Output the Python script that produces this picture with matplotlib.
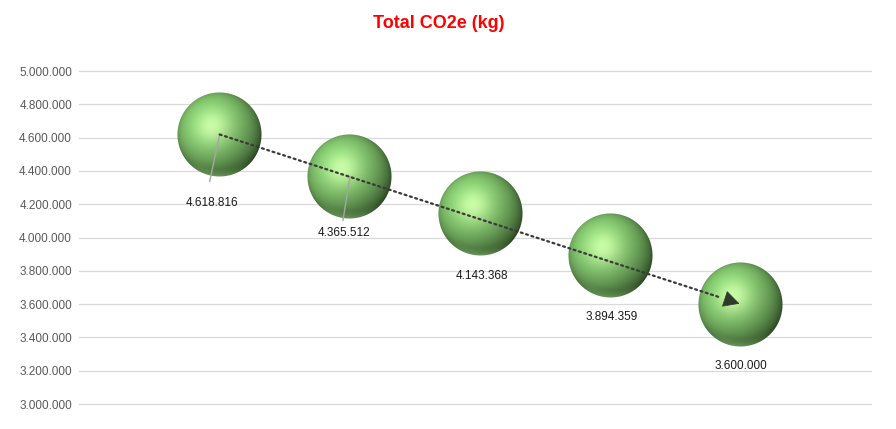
import numpy as np
import matplotlib
matplotlib.use("Agg")
import matplotlib.pyplot as plt
from matplotlib.ticker import FuncFormatter, MultipleLocator
from matplotlib.offsetbox import OffsetImage, AnnotationBbox

# data
years = [1, 2, 3, 4, 5]
co2 = [4618816, 4365512, 4143368, 3894359, 3600000]
title = "Total CO2e (kg)"
# label offsets in pixels (label pulled away from bubble)
label_dx = [-8, -6, 2, 1, 0]
label_dy = [-69, -56, -62, -62, -62]

plt.rcParams['font.family'] = ['Liberation Sans', 'DejaVu Sans']


def sphere(n=170):
    # shaded green ball, soft highlight top-left, shadow on the right
    t = np.linspace(-1, 1, n)
    x, y = np.meshgrid(t, -t)
    r = np.sqrt(x**2 + y**2)
    nz = np.sqrt(np.clip(1 - r**2, 0, 1))
    L = np.array([-0.3, 0.35, 0.89])
    L = L / np.linalg.norm(L)
    dot = x * L[0] + y * L[1] + nz * L[2]
    w = 0.55
    shade = np.clip((dot + w) / (1 + w), 0, 1) ** 1.3
    light = np.array([0.58, 0.87, 0.49])
    dark = np.array([0.12, 0.20, 0.09])
    img = dark + (light - dark) * shade[..., None]
    H = L + np.array([0, 0, 1.0])
    H = H / np.linalg.norm(H)
    spec = np.clip(x * H[0] + y * H[1] + nz * H[2], 0, 1) ** 12
    img += spec[..., None] * np.array([0.22, 0.13, 0.17])
    rim = np.clip((-y - 0.55) / 0.45, 0, 1) ** 2 * np.clip((r - 0.8) / 0.2, 0, 1)
    img += rim[..., None] * np.array([0.24, 0.32, 0.22])
    img = np.clip(img, 0, 1)
    alpha = np.clip((1 - r) * n / 2, 0, 1)
    return np.dstack([img, alpha])


fig = plt.figure(figsize=(8.96, 4.29), dpi=100)
ax = fig.add_axes([79 / 896, 1 - 404 / 429, (871 - 79) / 896, (404 - 71) / 429])

ax.set_ylim(3000000, 5000000)
ax.set_xlim(-0.08, 6.0)
ax.yaxis.set_major_locator(MultipleLocator(200000))
ax.yaxis.set_major_formatter(FuncFormatter(lambda v, p: f"{v:,.0f}".replace(",", ".")))
ax.grid(axis='y', color='#d9d9d9', lw=0.9)
for gl in ax.get_ygridlines():
    gl.set_clip_on(False)
ax.set_axisbelow(True)
ax.set_xticks([])
for s in ax.spines.values():
    s.set_visible(False)
ax.tick_params(axis='y', length=0, pad=5, labelsize=8.5, labelcolor='#595959')

d = 85
ax.scatter(years, co2, s=(0.9 * d * 72 / 100) ** 2, color='#7fcc66', zorder=2)
ball = sphere(2 * d)
for xv, yv in zip(years, co2):
    ab = AnnotationBbox(OffsetImage(ball, zoom=0.5, dpi_cor=False), (xv, yv),
                        frameon=False, pad=0, zorder=3)
    ax.add_artist(ab)

# leader lines for the two moved labels
ax.annotate('', xy=(years[0], co2[0]), xytext=(-10, -47), textcoords='offset pixels',
            arrowprops=dict(arrowstyle='-', color='#a6a6a6', lw=1, shrinkA=0, shrinkB=0),
            zorder=4)
ax.annotate('', xy=(years[1], co2[1]), xytext=(-7, -44), textcoords='offset pixels',
            arrowprops=dict(arrowstyle='-', color='#a6a6a6', lw=1, shrinkA=0, shrinkB=0),
            zorder=4)

# trend arrow: dotted shaft, solid head
p0 = ax.transData.transform((years[0], co2[0]))
p1 = ax.transData.transform((years[-1], co2[-1]))
u = (p1 - p0) / np.linalg.norm(p1 - p0)
head = 16
ax.annotate('', xy=(years[-1], co2[-1]), xytext=(years[0], co2[0]),
            arrowprops=dict(arrowstyle='-', color='#3a3a3a', lw=1.6,
                            linestyle=(0, (0.9, 1.6)), shrinkA=0, shrinkB=head),
            zorder=5)
ax.annotate('', xy=(years[-1], co2[-1]), xytext=tuple(-u * head),
            textcoords='offset pixels',
            arrowprops=dict(arrowstyle='-|>,head_length=1.05,head_width=0.55',
                            color='#2f3a2c', lw=0.5, shrinkA=0, shrinkB=1),
            zorder=5)

for xv, yv, dx, dy in zip(years, co2, label_dx, label_dy):
    ax.annotate(f"{yv:,.0f}".replace(",", "."), (xv, yv), xytext=(dx, dy),
                textcoords='offset pixels', ha='center', va='center',
                fontsize=8.5, color='#1a1a1a', zorder=6)

fig.text(439 / 896, 1 - 24 / 429, title, ha='center', va='center',
         fontsize=13, fontweight='bold', color='#ff0000')

fig.savefig('out.png', dpi=100)
